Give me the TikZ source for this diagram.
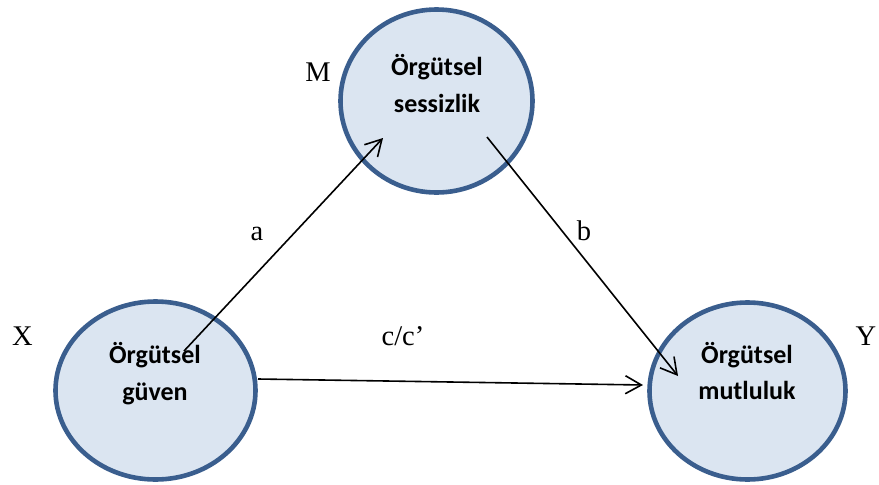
\documentclass[tikz,border=0pt]{standalone}
\usepackage{fontspec}
\setmainfont{Liberation Serif}
\newfontfamily\calibri{Carlito}
\usetikzlibrary{shapes.geometric,arrows.meta}
\definecolor{ellfill}{HTML}{DBE5F1}
\definecolor{elldraw}{HTML}{3A5E8E}
\begin{document}
\begin{tikzpicture}[x=1pt,y=-1pt,
 var/.style={ellipse, draw=elldraw, fill=ellfill, line width=4.6pt, inner sep=0pt},
 ntext/.style={font=\calibri\bfseries\fontsize{26}{37}\selectfont, anchor=base, inner sep=0pt},
 lbl/.style={font=\fontsize{28.5}{32}\selectfont, anchor=base, inner sep=0pt},
 arr/.style={-{Straight Barb[length=16pt,width=18pt]}, line width=1.6pt}]
\useasboundingbox (0,0) rectangle (879,485);
\node[var, minimum width=200pt, minimum height=178pt] (X) at (155.5,390.5) {};
\node[var, minimum width=192pt, minimum height=183pt] (M) at (436.5,101) {};
\node[var, minimum width=196pt, minimum height=177pt] (Y) at (747.5,391) {};
\node[ntext] (x1) at (155,363) {Örgütsel};
\node[ntext] (x2) at (155,400) {güven};
\node[ntext] (m1) at (437,75) {Örgütsel};
\node[ntext] (m2) at (437,112) {sessizlik};
\node[ntext] (y1) at (747,363) {Örgütsel};
\node[ntext] (y2) at (747,399) {mutluluk};
\node[lbl] (lM) at (318,81) {M};
\node[lbl] (lX) at (22.5,345) {X};
\node[lbl] (lY) at (866,345) {Y};
\node[lbl] (lc) at (403,345) {c/c’};
\node[lbl] (la) at (257,240) {a};
\node[lbl] (lb) at (584,240) {b};
\coordinate (a1) at (184,351);
\coordinate (a2) at (383,138);
\coordinate (b1) at (487,137);
\coordinate (b2) at (678,376);
\coordinate (c1) at (258,379);
\coordinate (c2) at (643,385);
\draw[arr] (a1) -- (a2);
\draw[arr] (b1) -- (b2);
\draw[arr] (c1) -- (c2);
\end{tikzpicture}
\end{document}
